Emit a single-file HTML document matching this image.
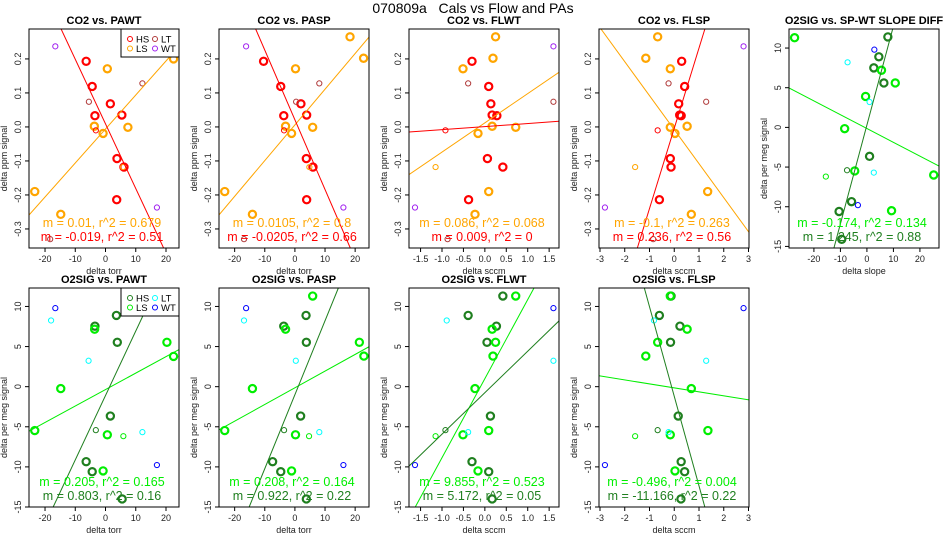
<!DOCTYPE html>
<html><head><meta charset="utf-8"><style>
html,body{margin:0;padding:0;background:#fff;width:950px;height:550px;overflow:hidden;}
svg{display:block;font-family:"Liberation Sans",Arial,sans-serif;}
</style></head><body>
<svg id="chart" width="950" height="550" viewBox="0 0 950 550" xmlns="http://www.w3.org/2000/svg">
<text x="473" y="13" font-size="14" text-anchor="middle" style="white-space:pre">070809a&#160;&#160;&#160;Cals vs Flow and PAs</text>
</svg>
<script>
// ---- data (per panel: x, y, group) ----
const p1X=[-6.4,-4.4,1.6,-3.5,5.4,3.8,6.1,3.7,-23.4,-14.8,-3.7,-0.8,0.6,7.4,22.5,-5.5,12.2,-18.3,-3.2,5.8,-16.6,17];
const p1Y=[0.193,0.119,0.068,0.033,0.035,-0.093,-0.118,-0.214,-0.19,-0.257,0.002,-0.019,0.171,-0.001,0.2,0.074,0.128,-0.33,-0.01,-0.118,0.237,-0.237];
const p1G=['HS','HS','HS','HS','HS','HS','HS','HS','LS','LS','LS','LS','LS','LS','LS','LT','LT','LT','HSt','LSt','WT','WT'];
const p2X=[-10.4,-4.7,2.0,-3.7,3.9,3.8,6.0,3.9,-23.3,-14.1,-3.1,-1.1,0.2,5.9,18.3,22.8,0.4,8.1,-16.9,-3.6,4.8,-16.2,16.1];
const p2Y=[0.193,0.119,0.068,0.033,0.035,-0.093,-0.118,-0.214,-0.19,-0.257,0.002,-0.019,0.171,-0.001,0.265,0.202,0.074,0.128,-0.33,-0.01,-0.118,0.237,-0.237];
const p2G=['HS','HS','HS','HS','HS','HS','HS','HS','LS','LS','LS','LS','LS','LS','LS','LS','LT','LT','LT','HSt','LSt','WT','WT'];
const p3X=[-0.30,0.09,0.14,0.17,0.28,0.06,0.42,-0.38,0.25,0.19,-0.51,0.17,0.72,-0.16,0.09,-0.23,-0.39,1.6,-0.87,-0.92,-1.15,1.6,-1.63];
const p3Y=[0.193,0.119,0.068,0.035,0.033,-0.093,-0.118,-0.214,0.265,0.202,0.171,0.002,-0.001,-0.019,-0.19,-0.257,0.128,0.074,-0.33,-0.01,-0.118,0.237,-0.237];
const p3G=['HS','HS','HS','HS','HS','HS','HS','HS','LS','LS','LS','LS','LS','LS','LS','LS','LT','LT','LT','HSt','LSt','WT','WT'];
const p4X=[0.30,0.42,0.18,0.22,0.28,-0.16,-0.13,-0.60,-0.67,-1.15,-0.16,-0.16,0.52,0.03,1.35,0.69,-0.23,1.29,-0.85,-0.67,-1.58,2.8,-2.8];
const p4Y=[0.193,0.119,0.068,0.035,0.033,-0.093,-0.118,-0.214,0.265,0.202,0.171,-0.001,0.002,-0.019,-0.19,-0.257,0.128,0.074,-0.33,-0.01,-0.118,0.237,-0.237];
const p4G=['HS','HS','HS','HS','HS','HS','HS','HS','LS','LS','LS','LS','LS','LS','LS','LS','LT','LT','LT','HSt','LSt','WT','WT'];
const p5X=[7.9,4.5,2.6,6.4,1.0,-5.8,-10.5,-9.5,-27.3,5.5,10.7,-0.5,-8.4,-4.6,25.2,9.3,-7.3,1.0,2.6,-7.5,-15.5,2.8,-3.4];
const p5Y=[11.4,8.9,7.5,5.6,-3.65,-9.36,-10.6,-14.1,11.3,7.2,5.6,3.9,-0.16,-5.49,-6.0,-10.5,8.2,3.2,-5.7,-5.4,-6.2,9.8,-9.8];
const p5G=['HS','HS','HS','HS','HS','HS','HS','HS','LS','LS','LS','LS','LS','LS','LS','LS','LT','LT','LT','HSt','LSt','WT','WT'];
const p6X=[3.6,-3.5,3.9,1.6,-6.4,-4.4,5.5,-3.6,20.3,22.5,-14.8,-23.4,0.6,-0.8,-3.2,5.9,-18.0,-5.6,12.2,-16.6,17.0];
const p6Y=[8.88,7.54,5.53,-3.66,-9.35,-10.6,-14.0,7.16,5.53,3.77,-0.24,-5.47,-6.0,-10.5,-5.42,-6.17,8.25,3.23,-5.67,9.79,-9.77];
const p6G=['HS','HS','HS','HS','HS','HS','HS','LS','LS','LS','LS','LS','LS','LS','HSt','LSt','LT','LT','LT','WT','WT'];
const p7X=[3.7,-3.7,3.8,1.9,-7.4,-4.7,3.8,5.9,-3.1,21.4,22.9,-14.1,-23.3,0.2,-1.1,-3.6,4.7,-16.9,0.3,8.1,-16.2,16.1];
const p7Y=[8.88,7.54,5.53,-3.66,-9.35,-10.6,-14.0,11.3,7.16,5.53,3.81,-0.24,-5.47,-6.0,-10.5,-5.42,-6.17,8.25,3.23,-5.67,9.79,-9.77];
const p7G=['HS','HS','HS','HS','HS','HS','HS','LS','LS','LS','LS','LS','LS','LS','LS','HSt','LSt','LT','LT','LT','WT','WT'];
const p8X=[0.42,-0.39,0.27,0.05,0.13,-0.30,0.09,0.17,0.72,0.17,0.25,0.19,-0.23,-0.51,0.09,-0.16,-0.92,-1.15,-0.89,1.6,-0.39,1.6,-1.63];
const p8Y=[11.3,8.88,7.54,5.53,-3.66,-9.35,-10.6,-14.0,11.3,7.16,5.53,3.81,-0.24,-6.0,-5.47,-10.5,-5.42,-6.17,8.25,3.23,-5.67,9.79,-9.77];
const p8G=['HS','HS','HS','HS','HS','HS','HS','HS','LS','LS','LS','LS','LS','LS','LS','LS','HSt','LSt','LT','LT','LT','WT','WT'];
const p9X=[-0.13,-0.60,0.23,-0.15,0.16,0.28,0.42,0.27,-0.16,0.52,-0.67,-1.15,0.69,1.36,-0.16,0.03,-0.67,-1.58,-0.82,1.29,-0.23,2.8,-2.8];
const p9Y=[11.3,8.88,7.54,5.53,-3.66,-9.35,-10.6,-14.0,11.3,7.16,5.53,3.81,-0.24,-5.47,-6.0,-10.5,-5.42,-6.17,8.25,3.23,-5.67,9.79,-9.77];
const p9G=['HS','HS','HS','HS','HS','HS','HS','HS','LS','LS','LS','LS','LS','LS','LS','LS','HSt','LSt','LT','LT','LT','WT','WT'];
// fit lines: [slope, intercept] — first LS fit, second HS fit
const fitSlopes=[[0.01,-0.019],[0.0105,-0.0205],[0.086,0.009],[-0.1,0.236],[-0.174,1.245],[0.205,0.803],[0.208,0.922],[9.855,5.172],[-0.496,-11.166]];
const fitIntercepts=[[-0.006,0.009],[0.006,0.021],[0.012,0.001],[-0.008,-0.004],[-0.14,0.3],[-0.36,-1.1],[-0.14,-1.0],[1.0,-0.75],[-0.15,-1.2]];
const statLabels=[["m = 0.01, r^2 = 0.679","m = -0.019, r^2 = 0.51"],["m = 0.0105, r^2 = 0.8","m = -0.0205, r^2 = 0.66"],["m = 0.086, r^2 = 0.068","m = 0.009, r^2 = 0"],["m = -0.1, r^2 = 0.263","m = 0.236, r^2 = 0.56"],["m = -0.174, r^2 = 0.134","m = 1.245, r^2 = 0.88"],["m = 0.205, r^2 = 0.165","m = 0.803, r^2 = 0.16"],["m = 0.208, r^2 = 0.164","m = 0.922, r^2 = 0.22"],["m = 9.855, r^2 = 0.523","m = 5.172, r^2 = 0.05"],["m = -0.496, r^2 = 0.004","m = -11.166, r^2 = 0.22"]];
const titles=["CO2 vs. PAWT","CO2 vs. PASP","CO2 vs. FLWT","CO2 vs. FLSP","O2SIG vs. SP-WT SLOPE DIFF","O2SIG vs. PAWT","O2SIG vs. PASP","O2SIG vs. FLWT","O2SIG vs. FLSP"];
const co2Ticks=[-0.3,-0.2,-0.1,0.0,0.1,0.2];
const co2TickLabels=["-0.3","-0.2","-0.1","0.0","0.1","0.2"];
const o2Ticks=[-15,-10,-5,0,5,10];
const torrTicks=[-20,-10,0,10,20];
const flwtTicks=[-1.5,-1.0,-0.5,0.0,0.5,1.0,1.5];
const flwtTickLabels=["-1.5","-1.0","-0.5","0.0","0.5","1.0","1.5"];
const flspTicks=[-3,-2,-1,0,1,2,3];

const NS="http://www.w3.org/2000/svg";
const svg=document.getElementById('chart');
function mk(tag,attrs,parent){const e=document.createElementNS(NS,tag);for(const k in attrs)e.setAttribute(k,attrs[k]);(parent||svg).appendChild(e);return e;}

const co2Dom=[-0.356,0.288], o2DomTop=[-15.0,12.3], o2DomR=[-15.2,12.4];
const torrDom=[-25.3,24.3], torrDom2=[-25.2,24.6], flwtDom=[-1.77,1.73], flspDom=[-3.04,3.02], slopeDom=[-29.4,27.2];
const panels=[
 {x:p1X,y:p1Y,g:p1G,L:29,T:29,xd:torrDom,yd:co2Dom,xt:torrTicks,xl:null,yt:co2Ticks,yl:co2TickLabels,xlab:"delta torr",ylab:"delta ppm signal",top:true,legend:true},
 {x:p2X,y:p2Y,g:p2G,L:219,T:29,xd:torrDom2,yd:co2Dom,xt:torrTicks,xl:null,yt:co2Ticks,yl:co2TickLabels,xlab:"delta torr",ylab:"delta ppm signal",top:true},
 {x:p3X,y:p3Y,g:p3G,L:409,T:29,xd:flwtDom,yd:co2Dom,xt:flwtTicks,xl:flwtTickLabels,yt:co2Ticks,yl:co2TickLabels,xlab:"delta sccm",ylab:"delta ppm signal",top:true},
 {x:p4X,y:p4Y,g:p4G,L:599,T:29,xd:flspDom,yd:co2Dom,xt:flspTicks,xl:null,yt:co2Ticks,yl:co2TickLabels,xlab:"delta sccm",ylab:"delta ppm signal",top:true},
 {x:p5X,y:p5Y,g:p5G,L:789,T:29,xd:slopeDom,yd:o2DomR,xt:torrTicks,xl:null,yt:o2Ticks,yl:null,xlab:"delta slope",ylab:"delta per meg signal",top:false},
 {x:p6X,y:p6Y,g:p6G,L:29,T:288,xd:torrDom,yd:o2DomTop,xt:torrTicks,xl:null,yt:o2Ticks,yl:null,xlab:"delta torr",ylab:"delta per meg signal",top:false,legend:true},
 {x:p7X,y:p7Y,g:p7G,L:219,T:288,xd:torrDom2,yd:o2DomTop,xt:torrTicks,xl:null,yt:o2Ticks,yl:null,xlab:"delta torr",ylab:"delta per meg signal",top:false},
 {x:p8X,y:p8Y,g:p8G,L:409,T:288,xd:flwtDom,yd:o2DomTop,xt:flwtTicks,xl:flwtTickLabels,yt:o2Ticks,yl:null,xlab:"delta sccm",ylab:"delta per meg signal",top:false},
 {x:p9X,y:p9Y,g:p9G,L:599,T:288,xd:flspDom,yd:o2DomTop,xt:flspTicks,xl:null,yt:o2Ticks,yl:null,xlab:"delta sccm",ylab:"delta per meg signal",top:false}
];
const W=150,H=219;
panels.forEach((p,i)=>{
 const G=mk('g',{});
 
 
 const xs=v=>p.L+(v-p.xd[0])/(p.xd[1]-p.xd[0])*W;
 const ys=v=>p.T+H-(v-p.yd[0])/(p.yd[1]-p.yd[0])*H;
 const cHS=p.top?'#ff0000':'#1f7f1f', cLS=p.top?'#ffa500':'#00ee00', cLT=p.top?'#b03a3a':'#00ffff', cWT=p.top?'#a020f0':'#0000ff';
 const col={HS:cHS,LS:cLS,LT:cLT,WT:cWT,HSt:cHS,LSt:cLS};
 const cid='clip'+i;
 const cp=mk('clipPath',{id:cid},G); mk('rect',{x:p.L,y:p.T,width:W,height:H},cp);
 const t=mk('text',{x:p.L+W/2,y:p.T-5,'font-size':11,'font-weight':'bold','text-anchor':'middle'},G); t.textContent=titles[i];
  
 const pg=mk('g',{'clip-path':'url(#'+cid+')'},G);
 p.x.forEach((xv,k)=>{
  const grp=p.g[k]; const thick=(grp==='HS'||grp==='LS');
  const c=mk('circle',{cx:xs(xv),cy:ys(p.y[k]),r:thick?3.6:2.6,fill:'none',stroke:col[grp],'stroke-width':thick?2.2:1},pg);
  
  
 });
 [0,1].forEach(j=>{
  const m=fitSlopes[i][j], b=fitIntercepts[i][j];
  // clip the line to the plot domain
  let xa=p.xd[0], xb=p.xd[1];
  if(m!==0){
   const xlo=(p.yd[0]-b)/m, xhi=(p.yd[1]-b)/m;
   xa=Math.max(xa,Math.min(xlo,xhi)); xb=Math.min(xb,Math.max(xlo,xhi));
  }
  const ln=mk('line',{x1:xs(xa),y1:ys(m*xa+b),x2:xs(xb),y2:ys(m*xb+b),stroke:j?cHS:cLS,'stroke-width':1},pg);
  
  
 });
 [0,1].forEach(j=>{
  const s=mk('text',{x:p.L+W/2-2,y:p.T+(j?212:198),'font-size':12.5,'text-anchor':'middle',fill:j?cHS:cLS},G);
  s.textContent=statLabels[i][j];
  
  
 });
 const bx=mk('rect',{x:p.L,y:p.T,width:W,height:H,fill:'none',stroke:'#000','stroke-width':1},G);
  
 const xmin=p.xt[0], xmax=p.xt[p.xt.length-1];
 mk('line',{x1:xs(xmin),y1:p.T+H,x2:xs(xmax),y2:p.T+H,stroke:'#000'},G);
 p.xt.forEach((v,k)=>{
  mk('line',{x1:xs(v),y1:p.T+H,x2:xs(v),y2:p.T+H+4,stroke:'#000'},G);
  const tl=mk('text',{x:xs(v),y:p.T+H+14,'font-size':9,'text-anchor':'middle',fill:'#222'},G);
  tl.textContent=p.xl?p.xl[k]:String(v);
   
 });
 const xl=mk('text',{x:p.L+W/2,y:p.T+H+26,'font-size':9,'text-anchor':'middle',fill:'#222'},G); xl.textContent=p.xlab;
  
 p.yt.forEach((v,k)=>{
  const y=ys(v);
  mk('line',{x1:p.L-4,y1:y,x2:p.L,y2:y,stroke:'#000'},G);
  const tl=mk('text',{x:p.L-8,y:y,'font-size':9,'text-anchor':'middle',fill:'#222',transform:'rotate(-90 '+(p.L-8)+' '+y+')'},G);
  tl.textContent=p.yl?p.yl[k]:String(v);
   
 });
 const yx=p.L-22, yy=p.T+H/2+20;
 const yl=mk('text',{x:yx,y:yy,'font-size':9,'text-anchor':'middle',fill:'#222',transform:'rotate(-90 '+yx+' '+yy+')'},G); yl.textContent=p.ylab;
  
 if(p.legend){
  const lg=mk('g',{},G);
   
  mk('rect',{x:p.L+92,y:p.T,width:58,height:28,fill:'#fff',stroke:'#000'},lg);
  [['HS',cHS,0,0],['LT',cLT,1,0],['LS',cLS,0,1],['WT',cWT,1,1]].forEach(e=>{
   const ex=p.L+101+e[2]*25, ey=p.T+10+e[3]*9.5;
   mk('circle',{cx:ex,cy:ey,r:2.5,fill:'none',stroke:e[1],'stroke-width':1},lg);
   const tx=mk('text',{x:ex+6,y:ey+3.5,'font-size':9.5},lg); tx.textContent=e[0];
    
  });
 }
});
</script>
</body></html>
